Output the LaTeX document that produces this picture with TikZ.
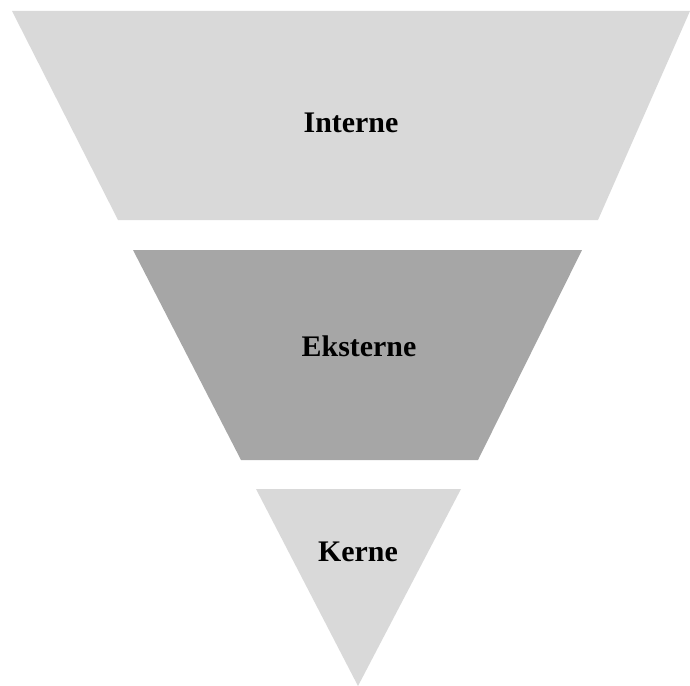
\documentclass[tikz,border=0pt]{standalone}
\usepackage{fontspec}
\setmainfont{Liberation Serif}
\definecolor{lightlayer}{HTML}{D9D9D9}
\definecolor{darklayer}{HTML}{A6A6A6}
\begin{document}
\begin{tikzpicture}[
  x=1bp, y=-1bp,
  layerlabel/.style={anchor=base, inner sep=0pt, font=\fontsize{30}{36}\selectfont\bfseries}
]
\useasboundingbox (0,0) rectangle (690,686);

% Layers
\fill[lightlayer] (12,11) -- (690,11) -- (598,220) -- (118,220) -- cycle;
\fill[darklayer] (133,250) -- (582,250) -- (478,460) -- (241,460) -- cycle;
\fill[lightlayer] (256,489) -- (461,489) -- (358,686) -- cycle;

% Labels
\node[layerlabel] (interne) at (351,133) {Interne};
\node[layerlabel] (eksterne) at (359,356) {Eksterne};
\node[layerlabel] (kerne) at (358,561) {Kerne};

\end{tikzpicture}
\end{document}
